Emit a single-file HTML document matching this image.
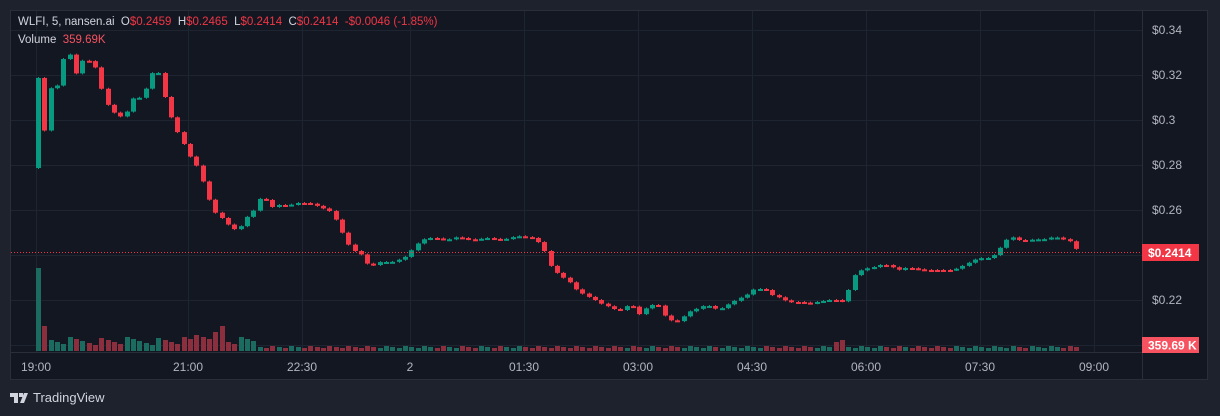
<!DOCTYPE html>
<html><head><meta charset="utf-8"><style>
html,body{margin:0;padding:0;background:#1e222d;width:1220px;height:416px;overflow:hidden;font-family:"Liberation Sans",sans-serif}
#panel{position:absolute;left:10px;top:10px;width:1198px;height:370px;background:#131722;border:1px solid #2a2e39;box-sizing:border-box}
svg{position:absolute;left:0;top:0}
.hdr{position:absolute;left:18px;top:16px;font-size:11.5px;color:#d1d4dc;white-space:nowrap}
.hdr .r{color:#f23645}
.vol{position:absolute;left:18px;top:34px;font-size:11.5px;color:#d1d4dc}
.vol .r{color:#f7525f}
.logo{position:absolute;left:10px;top:390px;font-size:13px;color:#d1d4dc;display:flex;align-items:center;gap:5px}
</style></head><body>
<div id="panel"></div>
<svg id="s" width="1220" height="416" xmlns="http://www.w3.org/2000/svg"></svg>
<div class="hdr">WLFI, 5, nansen.ai&nbsp; O<span class="r">$0.2459</span>&nbsp; H<span class="r">$0.2465</span>&nbsp; L<span class="r">$0.2414</span>&nbsp; C<span class="r">$0.2414</span>&nbsp; <span class="r">-$0.0046 (-1.85%)</span></div>
<div class="vol">Volume&nbsp; <span class="r">359.69K</span></div>
<div class="logo"><svg width="18" height="12" style="position:static"><path d="M0 1h8v10H4V5H0z M9 1h4v4H9z M14 1h4l-4 10h-4z" fill="#d1d4dc"/></svg>TradingView</div>
<script>
(function(){
var s=document.getElementById('s'),h='';
function L(x1,y1,x2,y2,c,extra){h+='<line x1="'+x1+'" y1="'+y1+'" x2="'+x2+'" y2="'+y2+'" stroke="'+c+'" stroke-width="1" '+(extra||'')+'/>';}
function R(x,y,w,hh,c,mn){h+='<rect x="'+x+'" y="'+y+'" width="'+w+'" height="'+Math.max(hh,mn||1)+'" fill="'+c+'"/>';}
function T(x,y,t,c,a){h+='<text x="'+x+'" y="'+y+'" fill="'+c+'" font-size="12" font-family="Liberation Sans, sans-serif" '+(a||'')+'>'+t+'</text>';}
[30,75,120,165,210,255,300,345].forEach(function(y){L(11,y+.5,1142,y+.5,'#1e2430');});
var tx=[36,188,302,410,524,638,752,866,980,1094],tl=['19:00','21:00','22:30','2','01:30','03:00','04:30','06:00','07:30','09:00'];
tx.forEach(function(x){L(x+.5,11,x+.5,352,'#1e2430');});
L(11,352.5,1142,352.5,'#2a2e39');L(1142.5,11,1142.5,379,'#2a2e39');
[['$0.34',30],['$0.32',75],['$0.3',120],['$0.28',165],['$0.26',210],['$0.22',300]].forEach(function(p){T(1152,p[1]+4,p[0],'#b2b5be');});
tx.forEach(function(x,i){T(x,371,tl[i],'#b2b5be','text-anchor="middle"');});
var k=[[36,78],[42,133],[48,88],[54,90],[60,63],[66,45],[72,80],[78,60],[84,62],[90,60],[96,75],[102,100],[108,108],[114,115],[120,117],[126,110],[132,96],[138,98],[144,88],[150,73],[156,72],[162,95],[168,115],[174,130],[180,140],[186,155],[192,160],[198,175],[204,190],[210,210],[216,215],[222,220],[228,227],[234,230],[240,225],[246,215],[252,210],[258,198],[264,200],[270,207],[276,205],[282,205],[288,205],[294,203],[300,203],[306,203],[312,205],[318,207],[324,210],[330,212],[336,225],[342,237],[348,248],[354,252],[360,255],[366,265],[372,265],[378,262],[384,262],[390,262],[396,260],[402,258],[408,252],[414,245],[420,240],[426,238],[432,238],[445,240],[455,237],[470,240],[485,238],[500,240],[515,236],[530,238],[536,242],[542,250],[548,265],[554,272],[560,277],[566,280],[572,288],[578,292],[584,296],[590,298],[596,302],[602,305],[608,307],[614,310],[620,310],[626,305],[632,307],[638,315],[644,308],[650,305],[656,305],[662,315],[668,320],[674,322],[680,318],[686,312],[692,310],[698,307],[704,305],[710,307],[716,310],[722,307],[728,303],[734,300],[740,297],[746,294],[752,289],[758,289],[764,290],[770,295],[776,297],[782,300],[788,302],[794,302],[800,302],[806,304],[812,302],[818,302],[824,300],[830,300],[836,300],[842,302],[848,285],[854,272],[860,270],[866,268],[872,267],[878,265],[884,265],[890,267],[896,270],[902,268],[908,268],[914,269],[920,270],[950,270],[956,268],[962,265],[968,262],[974,259],[980,258],[986,258],[992,255],[998,248],[1004,240],[1010,237],[1016,240],[1022,240],[1028,240],[1034,239],[1040,240],[1046,238],[1052,237],[1058,238],[1064,240],[1070,242],[1076,252]];
function yAt(x){for(var i=1;i<k.length;i++){if(x<=k[i][0]){var a=k[i-1],b=k[i];return a[1]+(b[1]-a[1])*(x-a[0])/(b[0]-a[0]);}}return k[k.length-1][1];}
var G='#089981',Rd='#f23645',prev=168,n=0;
for(var x=36;x<=1077;x+=6.33){var c=yAt(x);var o=prev;var up=c<o;var col=up?G:Rd;
 var ty=Math.min(o,c),bh=Math.abs(o-c);
 L(Math.round(x)+2.5,ty-1,Math.round(x)+2.5,ty+bh+1,col);
 R(Math.round(x),ty,5,bh,col,2);
 var v;if(n==0)v=83;else if(n==1)v=25;else if(n<35)v=6+((n*7)%9)+(n>24&&n<30?6:0)+(n==29?8:0);else v=3+((n*5)%3)+(x>830&&x<845?6:0);
 R(Math.round(x),351-v,5,v,up?'#1b6b61':'#8b2e3e');
 prev=c;n++;}
L(11,252.5,1142,252.5,Rd,'stroke-dasharray="1,2"');
h+='<rect x="1142" y="244" width="57" height="17" fill="#f23645"/>';
T(1148,257,'$0.2414','#fff','font-weight="bold"');
h+='<rect x="1142" y="337" width="57" height="16" fill="#f7525f"/>';
T(1148,349.5,'359.69 K','#fff','font-weight="bold"');
s.innerHTML=h;
})();
</script>
</body></html>
